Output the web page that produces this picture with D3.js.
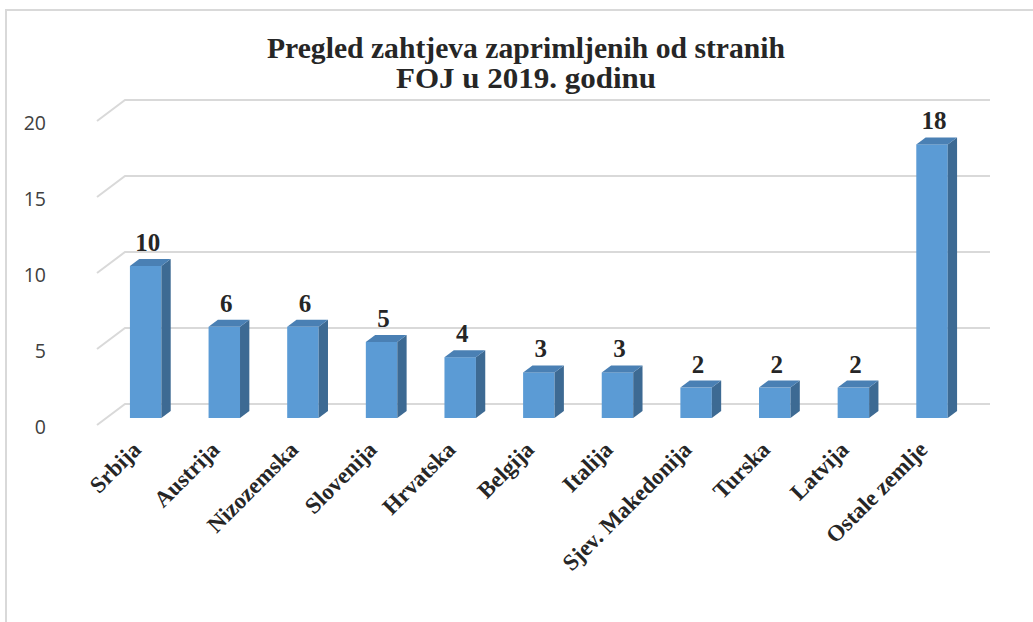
<!DOCTYPE html>
<html lang="hr">
<head>
<meta charset="utf-8">
<script src="https://d3js.org/d3.v7.min.js"></script>
<style>
  body { margin: 0; background: #fff; }
  svg { display: block; }
</style>
</head>
<body>
<svg id="chart" width="1033" height="622"></svg>
<script>
// data
const categories = ["Srbija", "Austrija", "Nizozemska", "Slovenija", "Hrvatska", "Belgija",
                    "Italija", "Sjev. Makedonija", "Turska", "Latvija", "Ostale zemlje"];
const values = [10, 6, 6, 5, 4, 3, 3, 2, 2, 2, 18];
const yTicks = [0, 5, 10, 15, 20];
const titleLines = ["Pregled zahtjeva zaprimljenih od stranih", "FOJ u 2019. godinu"];

const svg = d3.select("#chart");

// outer chart border
svg.append("rect")
  .attr("x", 6).attr("y", 10).attr("width", 1040).attr("height", 640)
  .attr("fill", "#fff").attr("stroke", "#d9d9d9").attr("stroke-width", 2);

// front plane scales + 3d depth
const x = d3.scaleBand().domain(categories).range([97, 962]);
const y = d3.scaleLinear().domain([0, 20]).range([425, 121]);
const depthX = 28, depthY = -21;
const off = t => [depthX * t, depthY * t];

// gridlines (floor diagonal + back wall)
const grid = svg.append("g");
yTicks.forEach(v => {
  const b = off(1);
  grid.append("path")
    .attr("d", `M${x.range()[0]},${y(v)} L${x.range()[0] + b[0]},${y(v) + b[1]} L990,${y(v) + b[1]}`)
    .attr("fill", "none").attr("stroke", "#d9d9d9").attr("stroke-width", 2);
});

// y axis labels
const yAxis = d3.axisLeft(y).tickValues(yTicks).tickSize(0).tickPadding(0);
const yg = svg.append("g").attr("transform", "translate(46,2)").call(yAxis);
yg.select(".domain").remove();
yg.selectAll("text")
  .attr("font-family", "'Open Sans', 'Liberation Sans', sans-serif")
  .attr("font-size", 19.5).attr("fill", "#404040");

// bars
const barW = x.bandwidth() * 0.4;
const f0 = off(1 / 3), f1 = off(2 / 3);
const dx = f1[0] - f0[0], dy = f1[1] - f0[1];
const bars = svg.append("g").selectAll("g").data(categories).join("g");

bars.each(function (c, i) {
  const g = d3.select(this);
  const xl = x(c) + (x.bandwidth() - barW) / 2 + f0[0];
  const xr = xl + barW;
  const top = y(values[i]) + f0[1];
  const bot = y(0) + f0[1];
  g.append("rect")
    .attr("x", xl).attr("y", top).attr("width", barW).attr("height", bot - top)
    .attr("fill", "#5b9bd5");
  g.append("path")
    .attr("d", `M${xr},${top} L${xr + dx},${top + dy} L${xr + dx},${bot + dy} L${xr},${bot} Z`)
    .attr("fill", "#3d6a93");
  g.append("path")
    .attr("d", `M${xl},${top} L${xl + dx},${top + dy} L${xr + dx},${top + dy} L${xr},${top} Z`)
    .attr("fill", "#4a80b4");
  g.append("text")
    .attr("x", (xl + xr) / 2 + 2).attr("y", top + dy - 8)
    .attr("text-anchor", "middle")
    .attr("font-family", "'Liberation Serif', 'Times New Roman', serif")
    .attr("font-weight", "bold").attr("font-size", 25).attr("fill", "#262626")
    .text(values[i]);
});

// category labels
svg.append("g").selectAll("text").data(categories).join("text")
  .attr("transform", c => `translate(${x(c) + x.bandwidth() / 2 + 6},451) rotate(-45)`)
  .attr("text-anchor", "end")
  .attr("font-family", "'Liberation Serif', 'Times New Roman', serif")
  .attr("font-weight", "bold").attr("font-size", 23).attr("fill", "#262626")
  .text(c => c);

// title
svg.append("g").selectAll("text").data(titleLines).join("text")
  .attr("x", 526).attr("y", (d, i) => 58 + i * 30)
  .attr("text-anchor", "middle")
  .attr("font-family", "'Liberation Serif', 'Times New Roman', serif")
  .attr("font-weight", "bold").attr("font-size", 30).attr("fill", "#262626")
  .attr("textLength", (d, i) => i === 0 ? 518 : 260)
  .attr("lengthAdjust", "spacingAndGlyphs")
  .text(d => d);
</script>
</body>
</html>
